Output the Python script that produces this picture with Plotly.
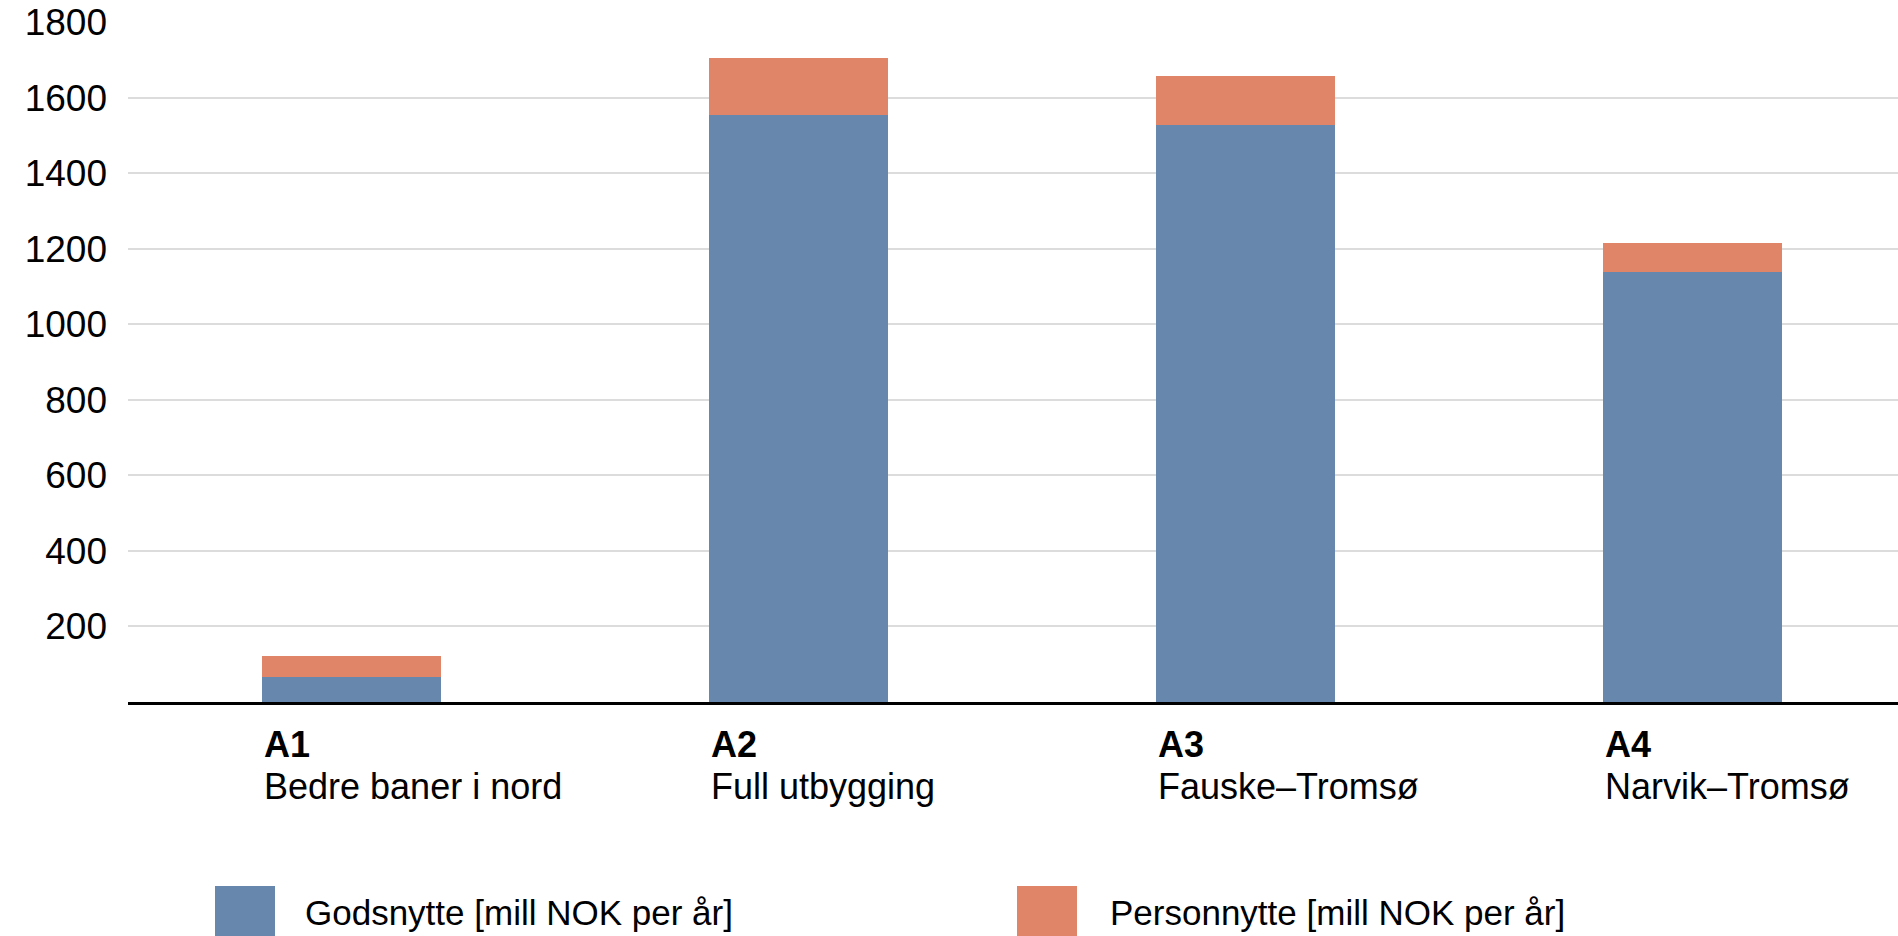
import plotly.graph_objects as go

# Alternatives and their yearly benefits (mill NOK per år)
codes = ["A1", "A2", "A3", "A4"]
names = ["Bedre baner i nord", "Full utbygging", "Fauske–Tromsø", "Narvik–Tromsø"]
godsnytte = [66, 1555, 1528, 1139]
personnytte = [56, 151, 130, 77]
series_names = ["Godsnytte [mill NOK per år]", "Personnytte [mill NOK per år]"]
y_ticks = [200, 400, 600, 800, 1000, 1200, 1400, 1600, 1800]

BLUE = "#6887AD"
ORANGE = "#E08567"
FONT = "Liberation Sans, Arial, sans-serif"

x_idx = list(range(len(codes)))

fig = go.Figure()
fig.add_trace(go.Bar(x=x_idx, y=godsnytte, name=series_names[0],
                     marker=dict(color=BLUE, line=dict(width=0)), width=0.4))
fig.add_trace(go.Bar(x=x_idx, y=personnytte, name=series_names[1],
                     marker=dict(color=ORANGE, line=dict(width=0)), width=0.4))

W, H = 1898, 936
L, T, B = 128, 22, 234

fig.update_layout(
    barmode="stack",
    width=W, height=H,
    margin=dict(l=L, r=0, t=T, b=B, pad=0),
    paper_bgcolor="white", plot_bgcolor="white",
    showlegend=False,
    font=dict(family=FONT, color="#000000", size=36),
    xaxis=dict(range=[-0.5, -0.5 + (W - L) / 447.0], showticklabels=False,
               showgrid=False, zeroline=False, showline=True,
               linecolor="#000000", linewidth=2.5, ticks=""),
    yaxis=dict(range=[0, 1800], tickvals=y_ticks, showgrid=True,
               gridcolor="#dcdcdc", gridwidth=1.5, zeroline=False,
               showline=False, ticks="", ticklabelstandoff=20,
               tickfont=dict(family=FONT, size=37, color="#000000")),
)

# Category labels, left-aligned with each bar's left edge
for i, (c, n) in enumerate(zip(codes, names)):
    fig.add_annotation(x=i - 0.2, y=0, xref="x", yref="paper",
                       text=f"<b>{c}</b>", showarrow=False,
                       xanchor="left", yanchor="top", yshift=-20,
                       font=dict(family=FONT, size=36, color="#000000"))
    fig.add_annotation(x=i - 0.2, y=0, xref="x", yref="paper",
                       text=n, showarrow=False,
                       xanchor="left", yanchor="top", yshift=-62,
                       font=dict(family=FONT, size=36, color="#000000"))

# Legend drawn as large swatches with labels below the chart
plot_h = H - T - B
def py(pix):
    return (H - B - pix) / plot_h

def px(pix):
    return (pix - L) / (W - L)

legend_items = [(215, 303, BLUE, series_names[0]),
                (1017, 1108, ORANGE, series_names[1])]
for sx, tx, col, label in legend_items:
    fig.add_shape(type="rect", xref="paper", yref="paper",
                  x0=px(sx), x1=px(sx + 60), y0=py(950), y1=py(886),
                  fillcolor=col, line=dict(width=0), layer="above")
    fig.add_annotation(x=px(tx), y=py(912), xref="paper", yref="paper",
                       text=label, showarrow=False, xanchor="left",
                       yanchor="middle",
                       font=dict(family=FONT, size=35, color="#000000"))

fig.write_html("out.html")
